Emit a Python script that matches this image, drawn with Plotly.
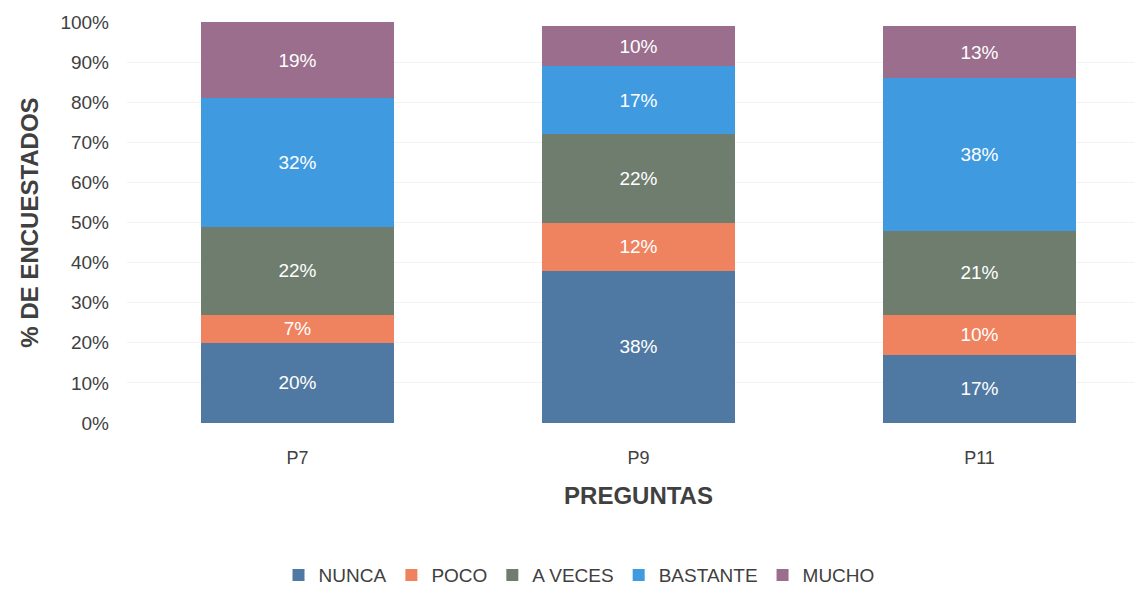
import plotly.graph_objects as go

preguntas = ["P7", "P9", "P11"]
nunca = [20, 38, 17]
poco = [7, 12, 10]
a_veces = [22, 22, 21]
bastante = [32, 17, 38]
mucho = [19, 10, 13]

series = [
    ("NUNCA", nunca, "#4f79a2"),
    ("POCO", poco, "#ef825f"),
    ("A VECES", a_veces, "#6e7d6e"),
    ("BASTANTE", bastante, "#3f9ae0"),
    ("MUCHO", mucho, "#9a6e8c"),
]

fig = go.Figure()
for name, vals, color in series:
    fig.add_trace(go.Bar(
        x=preguntas, y=vals, name=name,
        marker=dict(color=color, line=dict(width=0)),
        text=[f"{v}%" for v in vals],
        textposition="inside", insidetextanchor="middle",
        textfont=dict(color="white", size=19, family="Liberation Sans, Arial"),
    ))

fig.update_layout(
    barmode="stack",
    bargap=0.435,
    width=1142, height=589,
    margin=dict(l=119, r=0, t=14, b=174),
    plot_bgcolor="white", paper_bgcolor="white",
    font=dict(family="Liberation Sans, Arial", color="#404040", size=16),
    showlegend=True,
    legend=dict(orientation="h", xref="container", yref="container",
                x=0.5, xanchor="center", y=0.037, yanchor="middle",
                font=dict(size=19, color="#404040"), traceorder="normal",
                itemwidth=30),
    uniformtext=dict(mode="show", minsize=10),
)
fig.update_yaxes(
    range=[0, 100], dtick=10, ticksuffix="%",
    showgrid=True, gridcolor="#f3f3f3", zeroline=False,
    tickfont=dict(size=19, color="#404040"), ticklabelstandoff=17,
    title=dict(text="<b>% DE ENCUESTADOS</b>", font=dict(size=24, color="#404040"), standoff=14),
)
fig.update_xaxes(
    showgrid=False,
    tickfont=dict(size=18, color="#404040"), ticklabelstandoff=22,
    title=dict(text="<b>PREGUNTAS</b>", font=dict(size=24, color="#404040"), standoff=20),
)

fig.write_html("out.html")
